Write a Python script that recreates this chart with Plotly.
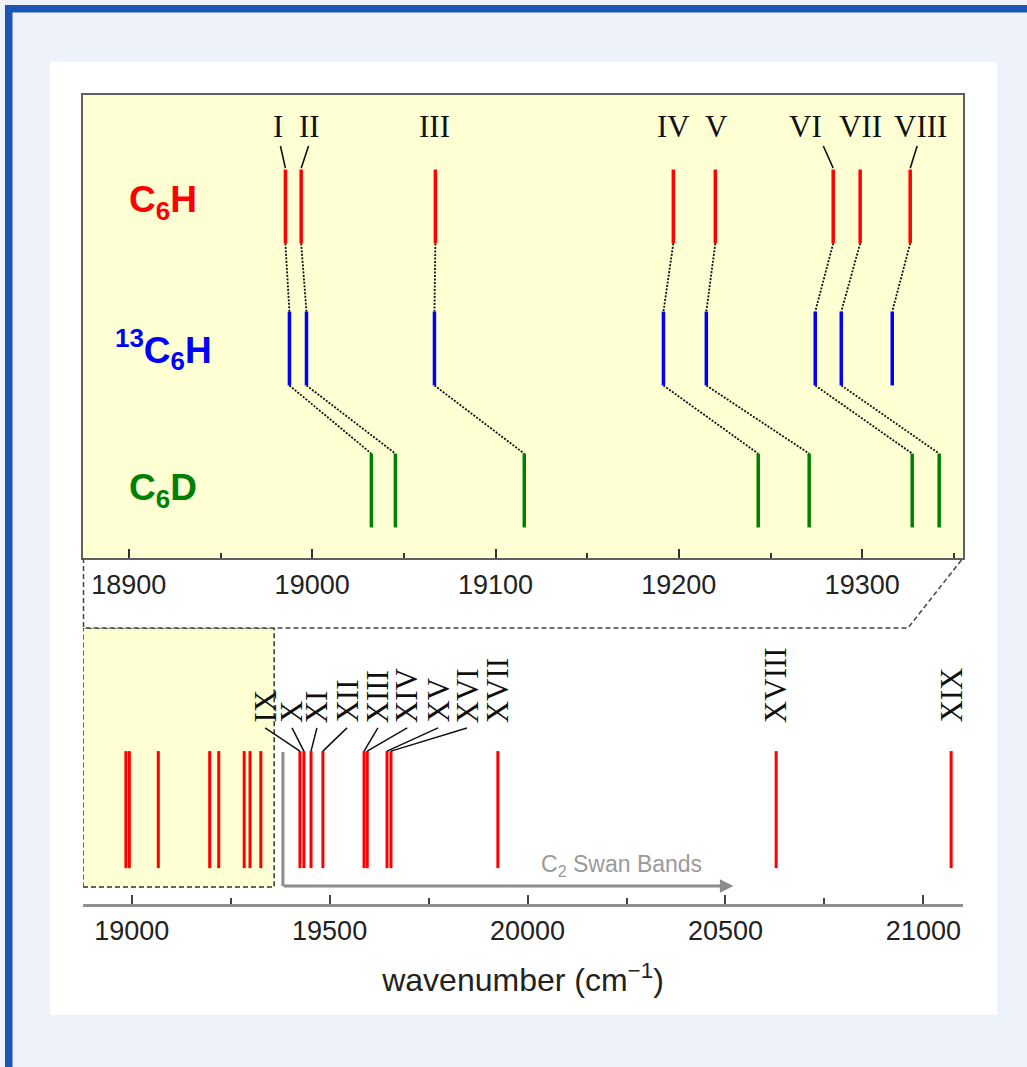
import plotly.graph_objects as go

W, H = 1027, 1067


def fx(px):
    return px / W


def fy(py):
    return 1 - py / H


# ---- band positions (cm^-1) ----
c6h_bands = [18985.4, 18994.0, 19067.2, 19197.0, 19219.9, 19284.2, 19298.9, 19326.2]
c13_bands = [18987.6, 18996.9, 19066.7, 19191.6, 19215.0, 19274.4, 19288.6, 19316.4]
c6d_bands = [19032.3, 19045.4, 19115.7, 19243.3, 19271.1, 19327.3, 19342.0]

top_labels = ["I", "II", "III", "IV", "V", "VI", "VII", "VIII"]
top_label_x = [18981.6, 18998.5, 19066.7, 19197.0, 19220.4, 19268.9, 19298.9, 19331.7]
top_pointer_from = [18982.7, 18998.0, None, None, None, 19278.8, None, 19330.0]

extra_bands = [19425, 19435, 19453, 19483, 19587, 19595, 19645, 19655, 19925, 20628, 21070]
extra_labels = ["IX", "X", "XI", "XII", "XIII", "XIV", "XV", "XVI", "XVII", "XVIII", "XIX"]
extra_label_x = [19337, 19405, 19468, 19544, 19622, 19696, 19774, 19847, 19925, 20628, 21070]

top_ticks = [18900, 19000, 19100, 19200, 19300]
bottom_ticks = [19000, 19500, 20000, 20500, 21000]

swan_start, swan_end = 19382, 20520

RED, BLUE, GREEN = "#ff0000", "#0000ff", "#008000"
YELLOW = "#ffffd4"
SANS = "Liberation Sans, Arial, sans-serif"
SERIF = "Liberation Serif, Times New Roman, serif"

# row levels in the upper panel
LVL = {"c6h": 2.0, "c13": 1.0, "c6d": 0.0}
HALF = 0.26


def sticks(xs, lo, hi):
    X, Y = [], []
    for x in xs:
        X += [x, x, None]
        Y += [lo, hi, None]
    return X, Y


def segments(pairs):
    X, Y = [], []
    for (x0, y0), (x1, y1) in pairs:
        X += [x0, x1, None]
        Y += [y0, y1, None]
    return X, Y


fig = go.Figure()

# upper panel: stick spectra of the three isotopologues
for key, bands, col in [("c6h", c6h_bands, RED), ("c13", c13_bands, BLUE), ("c6d", c6d_bands, GREEN)]:
    X, Y = sticks(bands, LVL[key] - HALF, LVL[key] + HALF)
    fig.add_trace(go.Scatter(x=X, y=Y, mode="lines", line=dict(color=col, width=3.5),
                             xaxis="x", yaxis="y", hoverinfo="skip", showlegend=False))

# dotted correlation lines between isotopologues
pairs = [((a, LVL["c6h"] - HALF), (b, LVL["c13"] + HALF)) for a, b in zip(c6h_bands, c13_bands)]
pairs += [((a, LVL["c13"] - HALF), (b, LVL["c6d"] + HALF)) for a, b in zip(c13_bands, c6d_bands)]
X, Y = segments(pairs)
fig.add_trace(go.Scatter(x=X, y=Y, mode="lines", line=dict(color="#111", width=1.8, dash="2px,1.5px"),
                         xaxis="x", yaxis="y", hoverinfo="skip", showlegend=False))

# label pointers (upper panel)
pp = [((f, 2.426), (b, LVL["c6h"] + HALF + 0.01))
      for f, b in zip(top_pointer_from, c6h_bands) if f is not None]
X, Y = segments(pp)
fig.add_trace(go.Scatter(x=X, y=Y, mode="lines", line=dict(color="#111", width=1.6),
                         xaxis="x", yaxis="y", hoverinfo="skip", showlegend=False))

# lower panel: overview of all bands
LO2, HI2 = 0.130, 0.554
X, Y = sticks(c6h_bands + extra_bands, LO2, HI2)
fig.add_trace(go.Scatter(x=X, y=Y, mode="lines", line=dict(color=RED, width=3),
                         xaxis="x2", yaxis="y2", hoverinfo="skip", showlegend=False))

# label pointers (lower panel)
pl = [((lx, 0.638), (b, HI2)) for lx, b in zip(extra_label_x, extra_bands) if abs(lx - b) > 1]
X, Y = segments(pl)
fig.add_trace(go.Scatter(x=X, y=Y, mode="lines", line=dict(color="#111", width=1.5),
                         xaxis="x2", yaxis="y2", hoverinfo="skip", showlegend=False))

# C2 Swan band marker: vertical leg
fig.add_trace(go.Scatter(x=[swan_start, swan_start], y=[0.551, 0.065], mode="lines",
                         line=dict(color="#8c8c8c", width=3),
                         xaxis="x2", yaxis="y2", hoverinfo="skip", showlegend=False))

shapes = [
    # frame background and panel
    dict(type="rect", xref="paper", yref="paper", x0=fx(50), x1=fx(997), y0=fy(1015), y1=fy(62),
         fillcolor="white", line=dict(width=0), layer="below"),
    dict(type="rect", xref="paper", yref="paper", x0=fx(5), x1=fx(12.5), y0=0, y1=fy(5),
         fillcolor="#1b57b2", line=dict(width=0), layer="below"),
    dict(type="rect", xref="paper", yref="paper", x0=fx(5), x1=1, y0=fy(12.5), y1=fy(5),
         fillcolor="#1b57b2", line=dict(width=0), layer="below"),
    # upper panel background
    dict(type="rect", xref="x domain", yref="y domain", x0=0, x1=1, y0=0, y1=1,
         fillcolor=YELLOW, line=dict(width=0), layer="below"),
    # zoom window in the overview
    dict(type="rect", xref="x2", yref="y2", x0=18877, x1=19360, y0=0.0616, y1=1.0,
         fillcolor=YELLOW, line=dict(color="#333", width=1.5, dash="5px,3px"), layer="below"),
    # zoom connector
    dict(type="path", xref="paper", yref="paper",
         path=f"M {fx(83.5)},{fy(558)} L {fx(83.5)},{fy(628)} L {fx(908)},{fy(628)} L {fx(963)},{fy(558)}",
         line=dict(color="#444", width=1.5, dash="5px,3px"), layer="above"),
]

annotations = []
# species labels
for txt, col, y in [("<b>C<sub>6</sub>H</b>", RED, 202),
                    ("<b><sup>13</sup>C<sub>6</sub>H</b>", BLUE, 349),
                    ("<b>C<sub>6</sub>D</b>", GREEN, 490)]:
    annotations.append(dict(xref="paper", yref="paper", x=fx(163), y=fy(y), text=txt,
                            showarrow=False, font=dict(family=SANS, size=37, color=col),
                            xanchor="center", yanchor="middle"))

for lab, x in zip(top_labels, top_label_x):
    annotations.append(dict(xref="x", yref="y", x=x, y=2.56, text=lab, showarrow=False,
                            font=dict(family=SERIF, size=31, color="#111"),
                            xanchor="center", yanchor="middle"))

for lab, x in zip(extra_labels, extra_label_x):
    annotations.append(dict(xref="x2", yref="y2", x=x, y=0.6486, text=lab, showarrow=False,
                            textangle=-90, font=dict(family=SERIF, size=31, color="#111"),
                            xanchor="center", yanchor="bottom"))

# C2 Swan band arrow head and label
annotations.append(dict(xref="x2", yref="y2", x=swan_end, y=0.065, ax=swan_start - 2, ay=0.065,
                        axref="x2", ayref="y2", text="", showarrow=True, arrowhead=2,
                        arrowsize=0.9, arrowwidth=3, arrowcolor="#8c8c8c"))
annotations.append(dict(xref="x2", yref="y2", x=20237, y=0.141, text="C<sub>2</sub> Swan Bands",
                        showarrow=False, font=dict(family=SANS, size=23, color="#9a9a9a"),
                        xanchor="center", yanchor="middle"))

fig.update_layout(
    width=W, height=H, autosize=False,
    margin=dict(l=0, r=0, t=0, b=0),
    paper_bgcolor="#eef3fb", plot_bgcolor="rgba(0,0,0,0)",
    shapes=shapes, annotations=annotations,
    xaxis=dict(domain=[fx(83), fx(963)], range=[18875, 19355], anchor="y",
               showline=True, mirror=True, linecolor="#5f5f5f", linewidth=2,
               ticks="inside", ticklen=9, tickwidth=1.5, tickcolor="#333",
               tickvals=top_ticks, ticktext=[str(t) for t in top_ticks],
               minor=dict(dtick=50, tick0=18900, ticks="inside", ticklen=5, tickwidth=1.5, tickcolor="#333"),
               tickfont=dict(family=SANS, size=27, color="#222"), ticklabelstandoff=2,
               showgrid=False, zeroline=False),
    yaxis=dict(domain=[fy(558), fy(95)], range=[-0.475, 2.785], anchor="x",
               showline=True, mirror=True, linecolor="#5f5f5f", linewidth=2,
               showticklabels=False, ticks="", showgrid=False, zeroline=False),
    xaxis2=dict(domain=[fx(83), fx(963)], range=[18877, 21100], anchor="y2",
                showline=True, linecolor="#8f8f8f", linewidth=3,
                ticks="inside", ticklen=9, tickwidth=1.5, tickcolor="#444",
                tickvals=bottom_ticks, ticktext=[str(t) for t in bottom_ticks],
                minor=dict(dtick=250, tick0=19000, ticks="inside", ticklen=6, tickwidth=1.5, tickcolor="#444"),
                tickfont=dict(family=SANS, size=27, color="#222"), ticklabelstandoff=1,
                title=dict(text="wavenumber (cm<sup>−1</sup>)", font=dict(family=SANS, size=32, color="#222"),
                           standoff=24),
                showgrid=False, zeroline=False),
    yaxis2=dict(domain=[fy(904), fy(628)], range=[0, 1], anchor="x2", visible=False),
)

fig.write_html("out.html")
